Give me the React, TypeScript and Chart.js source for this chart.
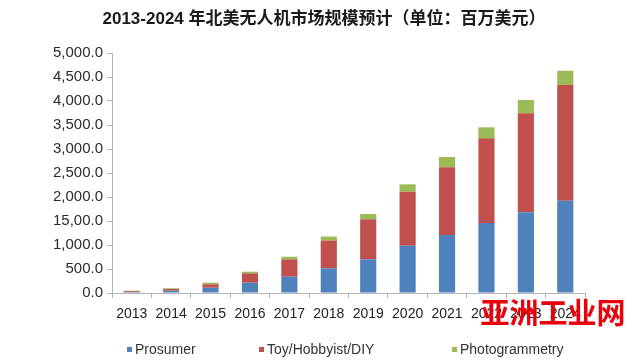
import React, { useEffect, useRef } from "react";
import { Chart, registerables } from "chart.js";

Chart.register(...registerables);

const titleText = "2013-2024 年北美无人机市场规模预计（单位：百万美元）";
const categories = ["2013", "2014", "2015", "2016", "2017", "2018", "2019", "2020", "2021", "2022", "2023", "2024"];
const prosumer = [20, 48, 110, 215, 340, 515, 702, 985, 1208, 1458, 1681, 1923];
const toyHobbyist = [18, 35, 71, 195, 360, 578, 833, 1125, 1410, 1764, 2062, 2410];
const photogrammetry = [10, 15, 34, 34, 55, 83, 111, 154, 215, 230, 277, 298];
const seriesNames = ["Prosumer", "Toy/Hobbyist/DIY", "Photogrammetry"];
const yTickLabels = ["0.0", "500.0", "1,000.0", "15,00.0", "2,000.0", "2,500.0", "3,000.0", "3,500.0", "4,000.0", "4,500.0", "5,000.0"];
const watermark = "亚洲工业网";

const COLORS = ["#4F81BD", "#C0504D", "#9BBB59"];
const LEGEND_X = [127, 259, 452];

const overlayPlugin = {
  id: "overlay",
  afterDraw(chart: any) {
    const ctx = chart.ctx;
    ctx.save();
    // title
    ctx.fillStyle = "#1a1a1a";
    ctx.font = 'bold 17px "Liberation Sans", "Noto Sans CJK SC", sans-serif';
    ctx.textAlign = "center";
    ctx.textBaseline = "middle";
    ctx.fillText(titleText, 324, 19);
    // legend
    ctx.font = '14px "Liberation Sans", Arial, sans-serif';
    ctx.textAlign = "left";
    chart.data.datasets.forEach((ds: any, i: number) => {
      const x = LEGEND_X[i];
      ctx.fillStyle = ds.backgroundColor;
      ctx.fillRect(x, 347, 5, 5);
      ctx.fillStyle = "#333";
      ctx.fillText(ds.label, x + 8, 350);
    });
    // watermark
    ctx.fillStyle = "#e8000b";
    ctx.font = 'bold 29px "Noto Sans CJK SC", sans-serif';
    ctx.textAlign = "center";
    ctx.fillText(watermark, 553, 313);
    ctx.restore();
  },
};

export default function App() {
  const ref = useRef<HTMLCanvasElement | null>(null);
  useEffect(() => {
    document.body.style.margin = "0";
    const canvas = ref.current!;
    const chart = new Chart(canvas, {
      type: "bar",
      data: {
        labels: categories,
        datasets: [
          { label: seriesNames[0], data: prosumer, backgroundColor: COLORS[0] },
          { label: seriesNames[1], data: toyHobbyist, backgroundColor: COLORS[1] },
          { label: seriesNames[2], data: photogrammetry, backgroundColor: COLORS[2] },
        ],
      },
      options: {
        responsive: false,
        animation: false,
        layout: { padding: { left: 0, right: 55, top: 53, bottom: 0 } },
        plugins: {
          legend: { display: false },
          title: { display: false },
          tooltip: { enabled: false },
        },
        datasets: { bar: { categoryPercentage: 1, barPercentage: 0.41 } },
        scales: {
          x: {
            stacked: true,
            offset: true,
            grid: {
              display: true,
              offset: true,
              drawOnChartArea: false,
              drawTicks: true,
              tickLength: 5,
              color: "#b5b5b5",
            },
            border: { display: true, color: "#b5b5b5", width: 1 },
            ticks: {
              color: "#222",
              font: { size: 14, family: '"Liberation Sans", Arial, sans-serif' },
              padding: 8,
              maxRotation: 0,
              autoSkip: false,
            },
            afterFit(scale: any) {
              scale.height = 70;
            },
          },
          y: {
            stacked: true,
            min: 0,
            max: 5000,
            grid: {
              display: true,
              drawOnChartArea: false,
              drawTicks: true,
              tickLength: 5,
              color: "#b5b5b5",
            },
            border: { display: true, color: "#b5b5b5", width: 1 },
            ticks: {
              stepSize: 500,
              color: "#2a2a2a",
              padding: 4,
              font: { size: 15, family: '"Liberation Sans", Arial, sans-serif' },
              callback: (_v: any, i: number) => yTickLabels[i],
            },
            afterFit(scale: any) {
              scale.width = 112;
            },
          },
        },
      },
      plugins: [overlayPlugin],
    });
    return () => chart.destroy();
  }, []);
  return <canvas ref={ref} width={640} height={363} style={{ display: "block" }} />;
}
